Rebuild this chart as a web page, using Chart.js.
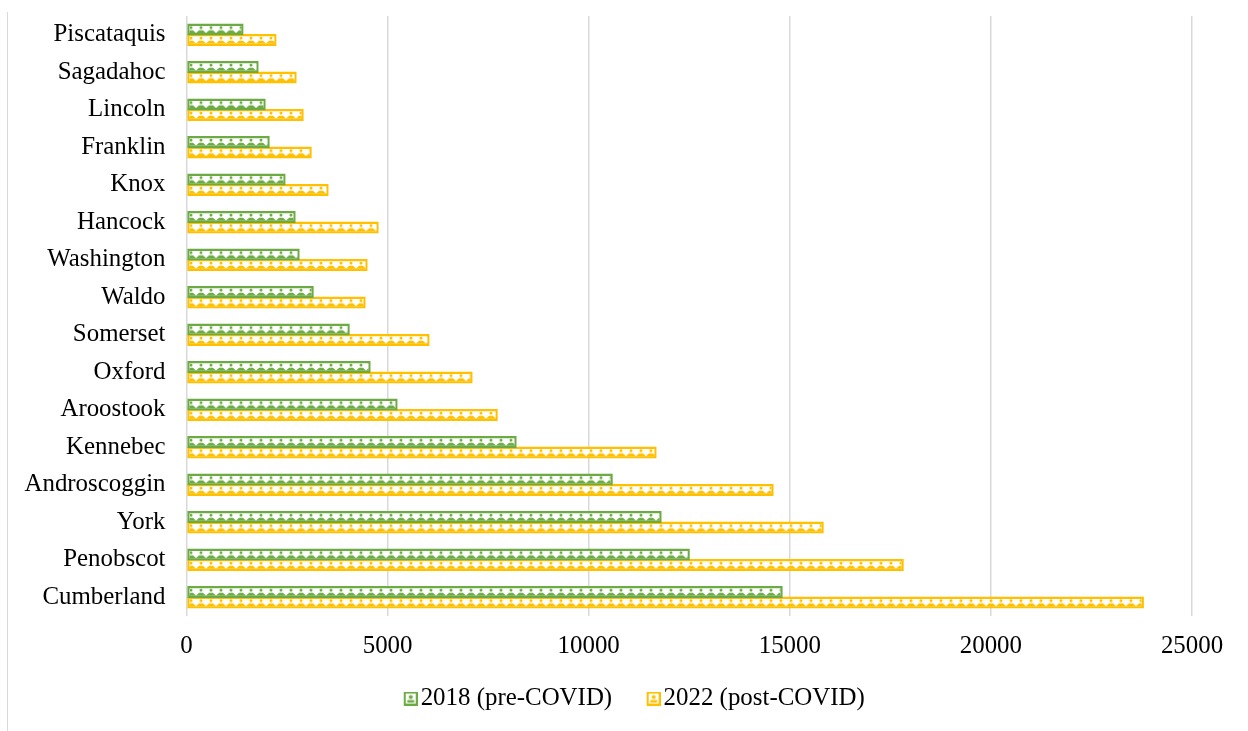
<!DOCTYPE html>
<html>
<head>
<meta charset="utf-8">
<title>Counties 2018 vs 2022</title>
<style>
  html, body { margin: 0; padding: 0; background: #fff; overflow: hidden; width: 1248px; height: 731px; }
  #frame { position: absolute; left: 7px; top: 12px; width: 1px; height: 719px; background: #d9d9d9; }
  #chart { position: absolute; left: 8px; top: 0; }
</style>
<script src="https://cdn.jsdelivr.net/npm/chart.js@4"></script>
</head>
<body>
<div id="frame"></div>
<canvas id="chart" width="1240" height="739"></canvas>
<script>
const counties = [
  "Piscataquis", "Sagadahoc", "Lincoln", "Franklin", "Knox", "Hancock", "Washington", "Waldo",
  "Somerset", "Oxford", "Aroostook", "Kennebec", "Androscoggin", "York", "Penobscot", "Cumberland"
];
const values2018 = [1420, 1795, 1970, 2070, 2465, 2715, 2815, 3165, 4060, 4580, 5250, 8210, 10600, 11815, 12515, 14825];
const values2022 = [2240, 2740, 2915, 3115, 3535, 4780, 4505, 4455, 6045, 7115, 7740, 11690, 14600, 15845, 17835, 23805];
const xTicks = [0, 5000, 10000, 15000, 20000, 25000];

const GREEN = "#6CAB44";
const GOLD = "#FFC000";
const SERIF = "'Liberation Serif', 'Times New Roman', serif";
const FONT_SIZE = 24.9;
const BAR_GAP = 10.5;
const BAR_SIZE = 12;

// one head-and-shoulders repeat of the bar fill
function makeTile(color) {
  const tile = document.createElement("canvas");
  tile.width = 10;
  tile.height = 12;
  const c = tile.getContext("2d");
  c.fillStyle = "#fff";
  c.fillRect(0, 0, 10, 12);
  c.fillStyle = color;
  c.beginPath();
  c.arc(5, 4, 1.5, 0, Math.PI * 2);
  c.fill();
  c.beginPath();
  c.moveTo(0, 12);
  c.lineTo(0, 9.5);
  c.lineTo(3, 6.8);
  c.lineTo(7, 6.8);
  c.lineTo(10, 9.5);
  c.lineTo(10, 12);
  c.closePath();
  c.fill();
  return tile;
}

// legend marker, padded on the left so it sits close to its text
function makeSwatch(color) {
  const s = document.createElement("canvas");
  s.width = 20;
  s.height = 14;
  const c = s.getContext("2d");
  c.translate(6, 0);
  c.fillStyle = color;
  c.fillRect(0, 0, 14, 14);
  c.fillStyle = "#fff";
  c.fillRect(2, 2, 10, 10);
  c.fillStyle = color;
  c.beginPath();
  c.arc(7, 5.5, 2, 0, Math.PI * 2);
  c.fill();
  c.fillRect(3.5, 8.5, 7, 2.5);
  return s;
}

const tiles = { [GREEN]: makeTile(GREEN), [GOLD]: makeTile(GOLD) };
const swatches = [makeSwatch(GREEN), makeSwatch(GOLD)];

// pattern anchored to each bar so the figures line up in every row
function barFill(color, side) {
  return (ctx) => {
    const chart = ctx.chart;
    const pattern = chart.ctx.createPattern(tiles[color], "repeat");
    const center = chart.scales.y.getPixelForValue(ctx.dataIndex);
    const top = center + side * BAR_GAP / 2 - BAR_SIZE / 2;
    pattern.setTransform(new DOMMatrix().translate(chart.scales.x.left - 0.5, top));
    return pattern;
  };
}

// the legend sits right of centre and tucks up under the tick labels
const legendOffset = {
  id: "legendOffset",
  afterLayout(chart) {
    chart.legend.left += 36;
    chart.legend.right += 36;
    chart.legend.top -= 18;
    chart.legend.bottom -= 18;
  }
};

new Chart(document.getElementById("chart"), {
  type: "bar",
  plugins: [legendOffset],
  data: {
    labels: counties,
    datasets: [
      {
        label: "2018 (pre-COVID)",
        data: values2018,
        backgroundColor: barFill(GREEN, -1),
        borderColor: GREEN,
        borderWidth: 2.4,
        borderSkipped: false
      },
      {
        label: "2022 (post-COVID)",
        data: values2022,
        backgroundColor: barFill(GOLD, 1),
        borderColor: GOLD,
        borderWidth: 2.4,
        borderSkipped: false
      }
    ]
  },
  options: {
    indexAxis: "y",
    responsive: false,
    animation: false,
    categoryPercentage: 2 * BAR_GAP / 37.5,
    barPercentage: BAR_SIZE / BAR_GAP,
    layout: { padding: { left: 0, right: 56, top: 16, bottom: 0 } },
    plugins: {
      tooltip: { enabled: false },
      legend: {
        position: "bottom",
        labels: {
          usePointStyle: true,
          pointStyleWidth: 1,
          padding: 38,
          color: "#000",
          font: { family: SERIF, size: FONT_SIZE },
          generateLabels(chart) {
            return Chart.defaults.plugins.legend.labels.generateLabels(chart).map((item, i) => ({
              ...item,
              pointStyle: swatches[i]
            }));
          }
        }
      }
    },
    scales: {
      x: {
        min: 0,
        max: 25000,
        position: "bottom",
        afterBuildTicks(axis) { axis.ticks = xTicks.map((value) => ({ value })); },
        afterFit(axis) { axis.height = 50; },
        grid: { color: "#d9d9d9", lineWidth: 1.5, drawTicks: false },
        border: { display: false },
        ticks: {
          color: "#000",
          padding: 15,
          maxRotation: 0,
          callback: (value) => String(value),
          font: { family: SERIF, size: FONT_SIZE }
        }
      },
      y: {
        afterFit(axis) {
          axis.width = 178.5;
          axis.paddingTop = 0;
          axis.paddingBottom = 0;
        },
        grid: { display: false, drawTicks: false },
        border: { display: false },
        ticks: {
          color: "#000",
          padding: 21,
          autoSkip: false,
          font: { family: SERIF, size: FONT_SIZE }
        }
      }
    }
  }
});
</script>
</body>
</html>
